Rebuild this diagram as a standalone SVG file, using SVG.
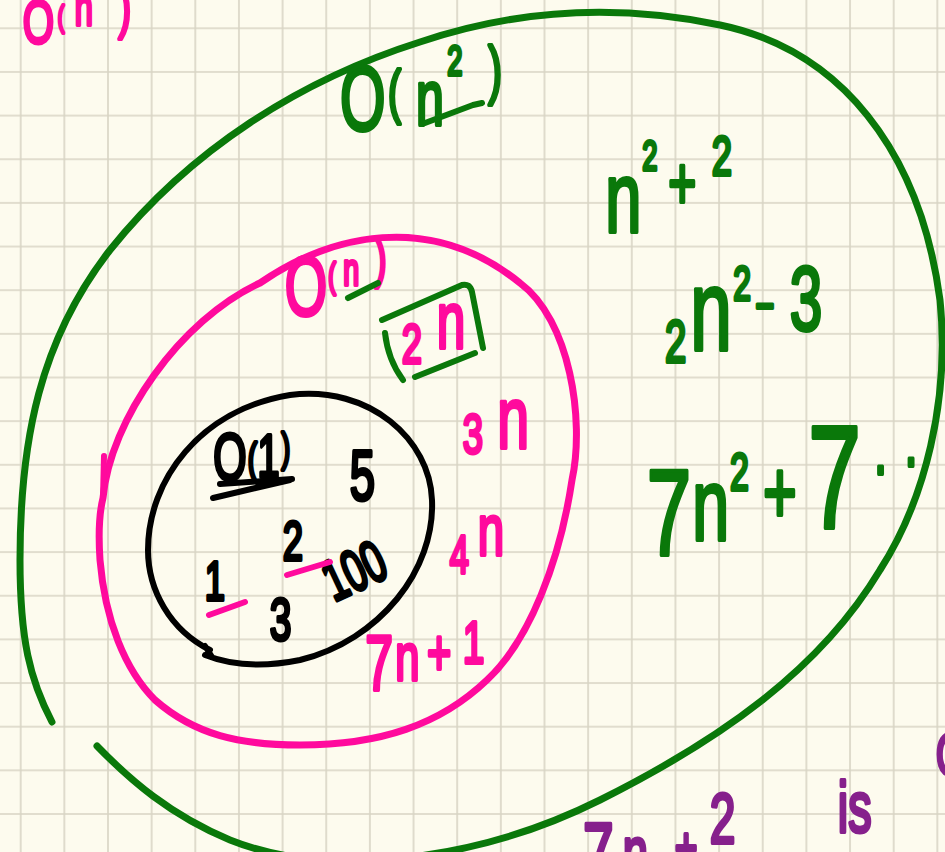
<svg xmlns="http://www.w3.org/2000/svg" width="945" height="852" viewBox="0 0 945 852">
<defs>
<pattern id="grid" patternUnits="userSpaceOnUse" x="19.7" y="27.3" width="43.65" height="43.65">
<path d="M0 1 H43.65 M1 0 V43.65" stroke="#d8d4c4" stroke-width="1.6" fill="none"/>
</pattern>
<style>
.ring{fill:none;stroke-linecap:round;stroke-linejoin:round}
.ink{fill:none;stroke-linecap:round;stroke-linejoin:round;stroke-width:6}
.hw{font-family:"Liberation Sans","DejaVu Sans",sans-serif;stroke-width:4;stroke-linejoin:round}
.g{fill:#0a780a;stroke:#0a780a}
.p{fill:#ff0a9d;stroke:#ff0a9d}
.k{fill:#000;stroke:#000}
.v{fill:#86208c;stroke:#86208c}
</style>
</defs>
<rect id="paper" width="945" height="852" fill="#fdfbee"/>
<rect id="grid-lines" width="945" height="852" fill="url(#grid)"/>

<g id="set-n2">
<path class="ring" stroke="#0a780a" stroke-width="7" d="M52 722 C30 680 20 640 20 560 C20 440 40 340 110 250 C190 150 300 80 420 42 C500 15 600 0 720 25 C840 50 920 150 940 300 C950 400 925 500 880 570 C820 670 720 740 600 800 C480 860 330 880 230 840 C170 815 130 780 97 746"/>
<text class="hw g" transform="scale(0.65 1)"><tspan x="523" y="130" font-size="90">O</tspan><tspan x="597" y="112" font-size="60">(</tspan><tspan x="640" y="125" font-size="77">n</tspan><tspan x="688" y="75" font-size="42">2</tspan><tspan x="751" y="92" font-size="64">)</tspan></text>
<path class="ink" stroke="#0a780a" d="M425 123 L473 105 L482 103"/>
<text class="hw g" transform="scale(0.65 1)"><tspan x="931" y="232" font-size="100">n</tspan><tspan x="988" y="170" font-size="42">2</tspan><tspan x="1028" y="209" font-size="74">+</tspan><tspan x="1095" y="175" font-size="56">2</tspan></text>
<text class="hw g" transform="scale(0.65 1)"><tspan x="1023" y="362" font-size="59">2</tspan><tspan x="1062" y="350" font-size="115">n</tspan><tspan x="1128" y="300" font-size="49">2</tspan><tspan x="1162" y="323" font-size="50">−</tspan><tspan x="1215" y="330" font-size="90">3</tspan></text>
<text class="hw g" transform="scale(0.65 1)"><tspan x="995" y="555" font-size="123">7</tspan><tspan x="1065" y="540" font-size="102">n</tspan><tspan x="1123" y="490" font-size="52">2</tspan><tspan x="1174" y="523" font-size="89">+</tspan><tspan x="1243" y="528" font-size="147">7</tspan><tspan x="1345" y="474" font-size="70">.</tspan><tspan x="1392" y="466" font-size="70">.</tspan></text>
</g>

<g id="set-n">
<path class="ring" stroke="#ff0a9d" stroke-width="7" d="M103 498 C110 420 180 320 260 283 C330 235 430 210 520 283 C570 320 585 420 572 480 C560 560 530 640 487 680 C440 725 380 745 300 745 C240 745 195 735 155 700 C125 670 105 620 100 560 C98 530 100 510 103 498"/>
<path class="ink" stroke="#ff0a9d" stroke-width="7" d="M104 456 L103 498"/>
<text class="hw p" transform="scale(0.65 1)"><tspan x="438" y="315" font-size="84">O</tspan><tspan x="505" y="288" font-size="35">(</tspan><tspan x="528" y="285" font-size="44">n</tspan><tspan x="577" y="277" font-size="53">)</tspan></text>
<path class="ink" stroke="#0a780a" d="M348 298 L378 283"/>
<path class="ink" stroke="#0a780a" d="M382 320 L462 285 Q470 283 472 292 L483 348 M385 333 Q388 360 403 380 M415 377 L475 353"/>
<text class="hw p" transform="scale(0.65 1)"><tspan x="618" y="363" font-size="56">2</tspan><tspan x="672" y="348" font-size="79">n</tspan></text>
<text class="hw p" transform="scale(0.65 1)"><tspan x="712" y="453" font-size="56">3</tspan><tspan x="765" y="448" font-size="88">n</tspan></text>
<text class="hw p" transform="scale(0.65 1)"><tspan x="692" y="573" font-size="53">4</tspan><tspan x="735" y="555" font-size="73">n</tspan></text>
<text class="hw p" transform="scale(0.65 1)"><tspan x="562" y="690" font-size="77">7</tspan><tspan x="608" y="680" font-size="67">n</tspan><tspan x="657" y="675" font-size="64">+</tspan><tspan x="712" y="663" font-size="60">1</tspan></text>
</g>

<g id="set-1">
<path class="ring" stroke="#000" stroke-width="6" d="M210 650 C170 630 148 590 148 550 C148 480 200 410 290 395 C370 385 430 440 432 500 C435 570 380 640 300 660 C260 668 230 665 205 655 M205 646 L212 657"/>
<text class="hw k" transform="scale(0.65 1)"><tspan x="328" y="480" font-size="66">O</tspan><tspan x="381" y="473" font-size="43">(</tspan><tspan x="396" y="477" font-size="61">1</tspan><tspan x="433" y="462" font-size="40">)</tspan></text>
<path class="ink" stroke="#000" d="M220 484 L292 479 M213 498 L290 480"/>
<text class="hw k" transform="scale(0.65 1)" x="538" y="500" font-size="70">5</text>
<text class="hw k" transform="scale(0.65 1)" x="435" y="560" font-size="56">2</text>
<text class="hw k" transform="translate(334 602) rotate(-25) scale(0.65 1)" x="0" y="0" font-size="58">100</text>
<text class="hw k" transform="scale(0.65 1)" x="315" y="600" font-size="56">1</text>
<text class="hw k" transform="scale(0.65 1)" x="415" y="640" font-size="60">3</text>
<path class="ink" stroke="#ff0a9d" d="M287 575 L330 562 M209 615 L245 602"/>
</g>

<g id="note-bottom">
<text class="hw v" transform="scale(0.65 1)"><tspan x="897" y="882" font-size="85">7</tspan><tspan x="958" y="876" font-size="70">n</tspan><tspan x="1038" y="868" font-size="60">+</tspan><tspan x="1092" y="843" font-size="71">2</tspan></text>
<text class="hw v" transform="scale(0.65 1)" x="1289" y="832" font-size="72">is</text>
<text class="hw v" transform="scale(0.65 1)" x="1440" y="775" font-size="60">O</text>
</g>

<g id="note-top">
<text class="hw p" transform="scale(0.65 1)"><tspan x="35" y="43" font-size="62">O</tspan><tspan x="89" y="27" font-size="30">(</tspan><tspan x="115" y="25" font-size="50">n</tspan><tspan x="182" y="27" font-size="60">)</tspan></text>
</g>
</svg>
